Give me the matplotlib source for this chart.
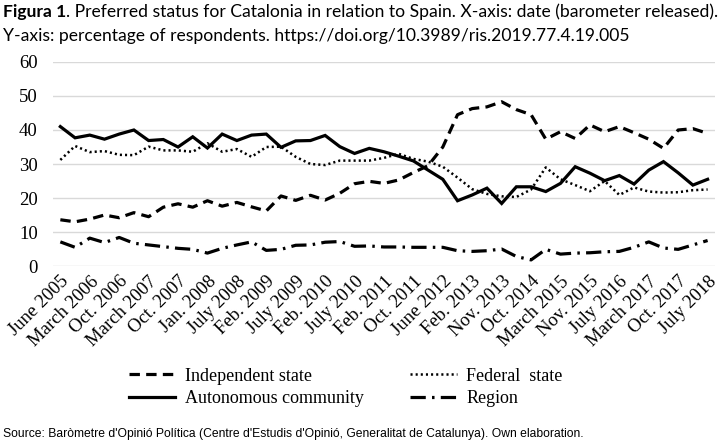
import numpy as np
import matplotlib.pyplot as plt

# barometer waves (45 waves, every other one labelled)
tick_labels = ["June 2005", "March 2006", "Oct. 2006", "March 2007", "Oct. 2007",
               "Jan. 2008", "July 2008", "Feb. 2009", "July 2009", "Feb. 2010",
               "July 2010", "Feb. 2011", "Oct. 2011", "June 2012", "Feb. 2013",
               "Nov. 2013", "Oct. 2014", "March 2015", "Nov. 2015", "July 2016",
               "March 2017", "Oct. 2017", "July 2018"]

independent = [13.6, 13.0, 13.8, 15.0, 14.2, 15.7, 14.5, 17.3, 18.3, 17.3,
               19.2, 17.6, 18.7, 17.4, 16.2, 20.6, 19.3, 20.8, 19.4, 21.4,
               24.2, 24.9, 24.3, 25.3, 27.5, 29.5, 35.0, 44.5, 46.3, 46.8,
               48.3, 46.0, 44.5, 37.3, 39.5, 37.5, 41.5, 39.5, 41.0, 39.2,
               37.3, 34.6, 40.0, 40.4, 39.0]

federal = [31.2, 35.3, 33.5, 33.8, 32.7, 32.6, 35.1, 34.0, 34.0, 33.6,
           36.1, 33.6, 34.4, 32.1, 35.0, 35.1, 32.1, 30.0, 29.7, 31.0,
           31.0, 31.0, 31.8, 33.0, 31.5, 30.7, 29.2, 26.0, 22.6, 21.2,
           20.5, 20.3, 22.5, 29.0, 25.5, 23.8, 22.0, 25.0, 20.9, 23.1,
           21.9, 21.6, 21.7, 22.3, 22.5]

autonomous = [41.0, 37.7, 38.5, 37.3, 38.8, 40.0, 36.9, 37.2, 35.0, 38.0,
              34.7, 38.8, 36.9, 38.5, 38.8, 34.9, 36.8, 36.9, 38.4, 35.1,
              33.1, 34.6, 33.6, 32.3, 30.9, 28.2, 25.5, 19.2, 20.9, 22.9,
              18.4, 23.3, 23.3, 21.9, 24.3, 29.2, 27.3, 25.1, 26.6, 24.1,
              28.2, 30.7, 27.4, 23.8, 25.5]

region = [7.1, 5.5, 8.2, 6.9, 8.4, 6.7, 6.2, 5.7, 5.2, 4.9,
          3.8, 5.2, 6.2, 7.1, 4.6, 4.9, 6.1, 6.2, 7.0, 7.2,
          5.8, 5.9, 5.6, 5.6, 5.5, 5.5, 5.5, 4.5, 4.3, 4.5,
          5.0, 2.8, 1.8, 4.9, 3.5, 3.8, 3.9, 4.2, 4.3, 5.5,
          7.1, 5.3, 4.9, 6.2, 7.5]

title_bold = "Figura 1"
title_rest = ". Preferred status for Catalonia in relation to Spain. X-axis: date (barometer released)."
title_line2 = "Y-axis: percentage of respondents. https://doi.org/10.3989/ris.2019.77.4.19.005"
source = ("Source: Baròmetre d'Opinió Política (Centre d'Estudis d'Opinió, "
          "Generalitat de Catalunya). Own elaboration.")

plt.rcParams['font.family'] = ['Liberation Serif', 'DejaVu Serif']
plt.rcParams['lines.scale_dashes'] = False

x = np.arange(len(autonomous))

fig = plt.figure(figsize=(7.2, 4.45), dpi=100)
ax = fig.add_axes([0.0736, 0.4022, 0.9194, 0.4585])

h_ind, = ax.plot(x, independent, color='black', lw=2.3, dashes=(7.5, 4.5),
                 dash_capstyle='butt', label='Independent state')
h_fed, = ax.plot(x, federal, color='black', lw=1.8, dashes=(1.5, 2.2),
                 dash_capstyle='butt', label='Federal  state')
h_aut, = ax.plot(x, autonomous, color='black', lw=2.3, solid_joinstyle='miter',
                 label='Autonomous community')
h_reg, = ax.plot(x, region, color='black', lw=2.3, dashes=(11, 4.5, 1.8, 4.5),
                 dash_capstyle='butt', label='Region')

ax.set_xlim(-0.5, len(x) - 0.5)
ax.set_ylim(0, 60)
ax.set_yticks(range(0, 61, 10))
ax.set_xticks(x[::2])
ax.set_xticklabels(tick_labels, rotation=45, ha='right', rotation_mode='anchor')
ax.tick_params(axis='x', length=0, labelsize=13.5, pad=5)
ax.tick_params(axis='y', length=0, labelsize=13.5, pad=11)
ax.grid(axis='y', color='#d9d9d9', lw=1)
ax.set_axisbelow(True)
for s in ax.spines.values():
    s.set_visible(False)

fig.legend([h_ind, h_aut, h_fed, h_reg],
           ['Independent state', 'Autonomous community', 'Federal  state', 'Region'],
           ncol=2, frameon=False, fontsize=13, loc='upper left',
           bbox_to_anchor=(0.166, 0.194), handlelength=2.6, handletextpad=0.5,
           columnspacing=2.6, labelspacing=0.3, borderpad=0)

# title: bold "Figura 1" followed by normal text on the same line
t1 = fig.text(0.004, 0.992, title_bold, fontsize=12.6, fontweight='bold',
              family='Lato', va='top', ha='left')
fig.canvas.draw()
bb = t1.get_window_extent().transformed(fig.transFigure.inverted())
fig.text(bb.x1, 0.992, title_rest, fontsize=12.6, family='Lato', va='top', ha='left')
fig.text(0.004, 0.937, title_line2, fontsize=12.6, family='Lato', va='top', ha='left')

fig.text(0.004, 0.012, source, fontsize=8.7, family='Liberation Sans',
         va='bottom', ha='left')

fig.savefig('out.png', dpi=100)
